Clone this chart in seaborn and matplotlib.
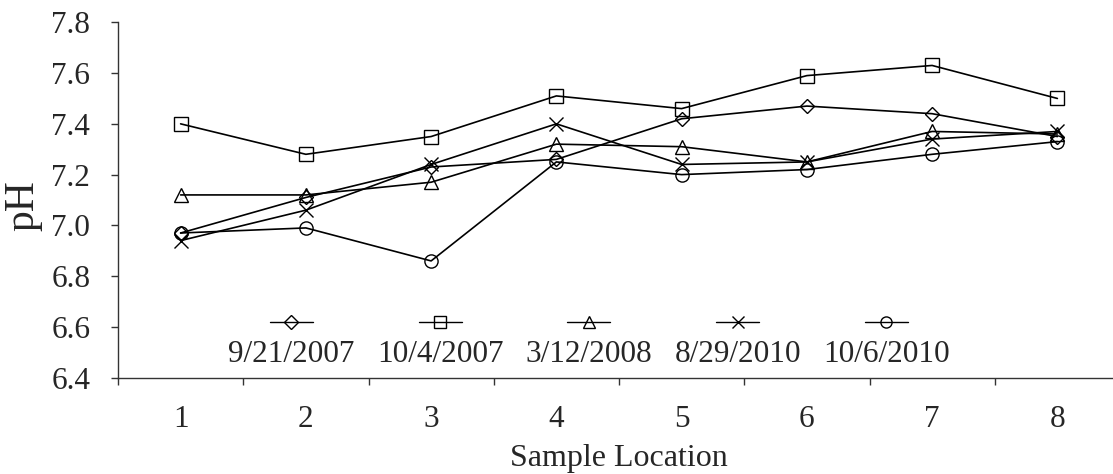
import numpy as np
import pandas as pd
import matplotlib
matplotlib.use("Agg")
import matplotlib.pyplot as plt
import seaborn as sns
from matplotlib.offsetbox import DrawingArea, TextArea, VPacker, HPacker, AnchoredOffsetbox
from matplotlib.lines import Line2D
from matplotlib.ticker import MultipleLocator, FixedLocator, FormatStrFormatter

# ---- data ----
locations = [1, 2, 3, 4, 5, 6, 7, 8]
dates = ["9/21/2007", "10/4/2007", "3/12/2008", "8/29/2010", "10/6/2010"]
ph_2007_09_21 = [6.97, 7.11, 7.23, 7.26, 7.42, 7.47, 7.44, 7.35]
ph_2007_10_04 = [7.40, 7.28, 7.35, 7.51, 7.46, 7.59, 7.63, 7.50]
ph_2008_03_12 = [7.12, 7.12, 7.17, 7.32, 7.31, 7.25, 7.37, 7.36]
ph_2010_08_29 = [6.94, 7.06, 7.24, 7.40, 7.24, 7.25, 7.34, 7.37]
ph_2010_10_06 = [6.97, 6.99, 6.86, 7.25, 7.20, 7.22, 7.28, 7.33]
series = [ph_2007_09_21, ph_2007_10_04, ph_2008_03_12, ph_2010_08_29, ph_2010_10_06]
y_ticks = [6.4, 6.6, 6.8, 7.0, 7.2, 7.4, 7.6, 7.8]

marker_list = ["D", "s", "^", "x", "o"]
marker_sizes = [7.5, 9.5, 9.5, 10.5, 9.5]

sns.set_style("white")
plt.rcParams["font.family"] = ["Liberation Serif", "DejaVu Serif"]

fig = plt.figure(figsize=(11.13, 4.74), dpi=100)
ax = fig.add_axes([118 / 1113, 96.3 / 474, 1002 / 1113, 355.4 / 474])

for d, vals, mk, ms in zip(dates, series, marker_list, marker_sizes):
    sub = pd.DataFrame({"Sample Location": locations, "pH": vals})
    sns.lineplot(
        data=sub, x="Sample Location", y="pH", color="black",
        marker=mk, markersize=ms, markerfacecolor="none", markeredgecolor="black",
        markeredgewidth=1.0, linewidth=1.2, ax=ax, label=d, legend=False,
    )

ax.set_xlim(0.5, 8.5)
ax.set_ylim(6.4, 7.8)

spine_color = "#333333"
for s in ["top", "right"]:
    ax.spines[s].set_visible(False)
for s in ["left", "bottom"]:
    ax.spines[s].set_color(spine_color)
    ax.spines[s].set_linewidth(1.0)

ax.yaxis.set_major_locator(FixedLocator(y_ticks))
ax.yaxis.set_major_formatter(FormatStrFormatter("%.1f"))
ax.xaxis.set_major_locator(FixedLocator(locations))
ax.xaxis.set_minor_locator(MultipleLocator(1.0, offset=0.5))
ax.tick_params(axis="x", which="major", length=0, pad=20, labelsize=22.5)
ax.tick_params(axis="x", which="minor", length=5, width=1.0, color=spine_color, direction="out", bottom=True)
ax.tick_params(axis="y", which="major", length=5, width=1.0, color=spine_color, direction="out", pad=15, labelsize=22.5, left=True)

ax.set_xlabel("Sample Location", fontsize=23, labelpad=7)
ax.set_ylabel("pH", fontsize=30, labelpad=6.5)
ax.yaxis.label.set_y(0.485)

# ---- Excel-style legend: marker above label ----
entries = []
for lab, mk in zip(dates, marker_list):
    da = DrawingArea(31, 12, 0, 0)
    da.add_artist(Line2D([0, 31], [6, 6], color="black", lw=1.0))
    da.add_artist(Line2D([15.5], [6], marker=mk, ms=8 if mk != "D" else 7, mfc="none",
                         mec="black", mew=1.0, ls="none"))
    ta = TextArea(lab, textprops=dict(fontsize=22.5, family="Liberation Serif"))
    entries.append(VPacker(children=[da, ta], align="center", pad=0, sep=7))
box = HPacker(children=entries, align="center", pad=0, sep=16)
anch = AnchoredOffsetbox(loc="center", child=box, bbox_to_anchor=(0.47, 0.102),
                         bbox_transform=ax.transAxes, frameon=False, pad=0, borderpad=0)
ax.add_artist(anch)

fig.savefig("out.png", dpi=100)
